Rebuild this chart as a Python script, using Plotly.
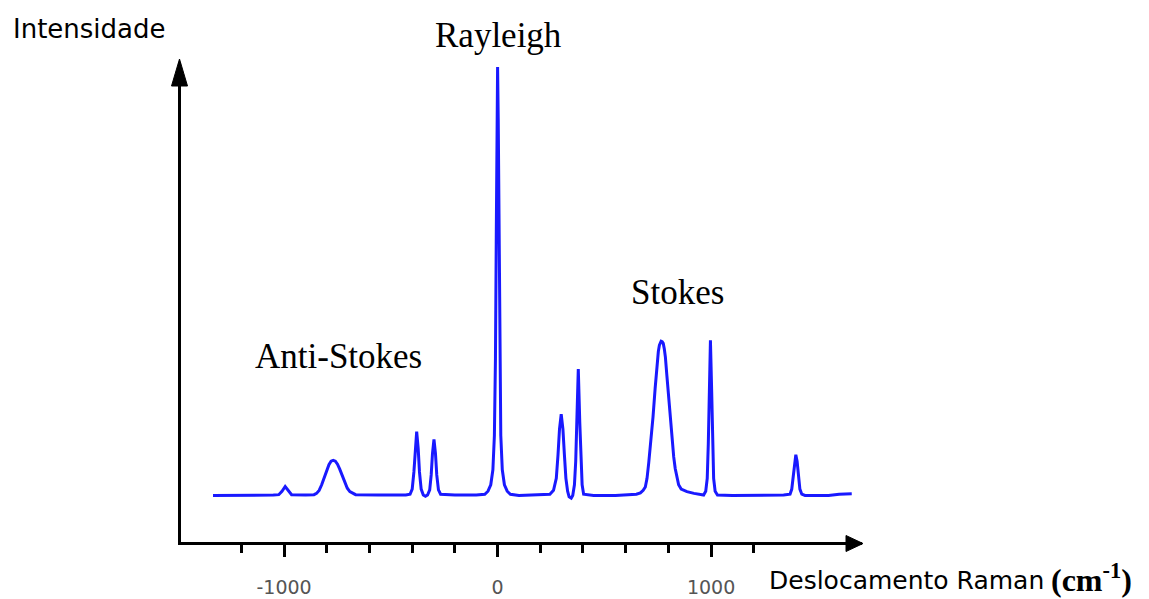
import plotly.graph_objects as go

# Raman shift (cm^-1) and intensity
shift = [
    -1333, -1150, -1050,
    -1025, -1010, -995, -980, -965,
    -900,
    -860, -848, -836, -824, -812, -800, -790, -780, -770, -760, -750, -740, -728, -716, -704, -692, -680, -665,
    -560, -430,
    -410, -400, -392, -386, -379, -372, -366, -358, -348,
    -338,
    -328, -318, -311, -305, -298, -291, -285, -277, -267,
    -200, -100,
    -60, -45, -32, -22, -15, -10, -6, -3, 0, 3, 6, 10, 15, 22, 32, 45, 60,
    100, 200,
    245, 262, 275, 283, 290, 298, 306, 313, 320, 328, 335,
    345,
    352, 360, 366, 371, 378, 385, 390, 396, 403,
    450, 552,
    614, 650, 669, 682, 692, 700, 708, 718, 728, 738, 747, 753, 758, 762, 766, 771, 776, 781, 786,
    793, 801, 809, 817, 825, 832, 840, 848, 860, 875, 887, 920, 958,
    965, 975, 982, 987, 991, 997, 1003, 1007, 1012, 1019, 1030,
    1100, 1250, 1340,
    1370, 1378, 1385, 1391, 1397, 1403, 1409, 1416, 1425,
    1440, 1550, 1600, 1659,
]
intensity = [
    0.0, 0.0, 0.1,
    0.2, 1.0, 2.1, 1.0, 0.2,
    0.1,
    0.2, 0.5, 1.2, 2.5, 4.2, 5.9, 7.2, 8.0, 8.2, 8.0, 7.3, 6.2, 4.6, 3.0, 1.7, 0.9, 0.5, 0.2,
    0.1, 0.1,
    0.3, 1.5, 5.5, 11.0, 14.9, 11.0, 5.5, 1.5, 0.1,
    -0.2,
    0.1, 1.3, 4.8, 9.8, 13.1, 9.8, 4.8, 1.3, 0.3,
    0.1, 0.1,
    0.3, 1.0, 2.5, 6.0, 14.0, 32.0, 62.0, 88.0, 100.0, 88.0, 62.0, 32.0, 14.0, 6.0, 2.5, 1.0, 0.3,
    0.0, 0.1,
    0.3, 1.2, 4.0, 9.5, 15.5, 19.0, 15.5, 9.5, 4.0, 1.0, -0.3,
    -0.6,
    0.0, 2.5, 8.0, 17.0, 29.5, 17.0, 8.0, 2.5, 0.3,
    0.0, 0.0,
    0.1, 0.3, 0.6, 1.2, 2.0, 4.0, 7.6, 12.5, 18.3, 25.0, 30.8, 33.6, 35.1, 35.8, 36.0, 35.9, 35.5, 34.2, 32.3,
    28.0, 23.0, 17.5, 12.5, 9.0, 6.3, 4.0, 2.5, 1.5, 1.1, 0.9, 0.5, 0.1,
    0.1, 1.0, 4.0, 12.0, 24.0, 36.2, 24.0, 12.0, 4.0, 1.0, 0.1,
    0.0, 0.0, 0.1,
    0.3, 1.5, 4.5, 8.0, 9.5, 8.0, 4.5, 1.5, 0.3,
    0.0, 0.0, 0.3, 0.4,
]

major_ticks = [-1000, 0, 1000]
major_labels = ["-1000", "0", "1000"]
minor_ticks = [-1200, -800, -600, -400, -200, 200, 400, 600, 800, 1200]

x_range = [-1483, 1707]
y_range = [-10.85, 101.17]

L, R, T, B = 181, 287, 62, 57
W, H = 1149, 599
PW, PH = W - L - R, H - T - B


def px(xp):
    return (xp - L) / PW


def py(yp):
    return (H - B - yp) / PH


fig = go.Figure()
fig.add_trace(go.Scatter(
    x=shift, y=intensity, mode="lines",
    line=dict(color="rgb(25,25,255)", width=3, shape="linear"),
    hoverinfo="skip", showlegend=False,
))

fig.update_layout(
    width=W, height=H,
    margin=dict(l=L, r=R, t=T, b=B, autoexpand=False),
    paper_bgcolor="white", plot_bgcolor="white",
    showlegend=False,
    xaxis=dict(
        range=x_range, showgrid=False, zeroline=False, automargin=False,
        showline=True, linecolor="black", linewidth=3,
        tickmode="array", tickvals=major_ticks, ticktext=major_labels,
        ticks="outside", ticklen=12, tickwidth=2.5, tickcolor="black",
        ticklabelstandoff=14,
        tickfont=dict(family="DejaVu Sans", size=19, color="#555555"),
        minor=dict(tickmode="array", tickvals=minor_ticks, ticks="outside",
                   ticklen=8, tickwidth=2.5, tickcolor="black", showgrid=False),
        fixedrange=True,
    ),
    yaxis=dict(
        range=y_range, showgrid=False, zeroline=False, automargin=False,
        showline=True, linecolor="black", linewidth=3,
        showticklabels=False, ticks="", fixedrange=True,
    ),
)

# arrow heads on the axes
fig.add_shape(type="path", xref="paper", yref="paper",
              path=f"M {px(846)} {py(535.5)} L {px(863)} {py(543.5)} L {px(846)} {py(551.5)} Z",
              fillcolor="black", line=dict(color="black", width=1))
fig.add_shape(type="path", xref="paper", yref="paper",
              path=f"M {px(171.5)} {py(86)} L {px(179.5)} {py(59)} L {px(187.5)} {py(86)} Z",
              fillcolor="black", line=dict(color="black", width=1))

serif = "Liberation Serif, Times New Roman, serif"
annots = [
    dict(text="Intensidade", x=px(11), y=py(29), xanchor="left", yanchor="middle",
         font=dict(family="DejaVu Sans", size=26, color="black")),
    dict(text="Deslocamento Raman", x=px(767), y=py(580), xanchor="left", yanchor="middle",
         font=dict(family="DejaVu Sans", size=25, color="black")),
    dict(text="<b>(cm<sup>-1</sup>)</b>", x=px(1049), y=py(578), xanchor="left", yanchor="middle",
         font=dict(family=serif, size=32, color="black")),
    dict(text="Rayleigh", x=px(498), y=py(35), xanchor="center", yanchor="middle",
         font=dict(family=serif, size=35, color="black")),
    dict(text="Stokes", x=px(677), y=py(292), xanchor="center", yanchor="middle",
         font=dict(family=serif, size=35, color="black")),
    dict(text="Anti-Stokes", x=px(338), y=py(357), xanchor="center", yanchor="middle",
         font=dict(family=serif, size=35, color="black")),
]
for a in annots:
    fig.add_annotation(xref="paper", yref="paper", showarrow=False, **a)

fig.write_html("out.html")
